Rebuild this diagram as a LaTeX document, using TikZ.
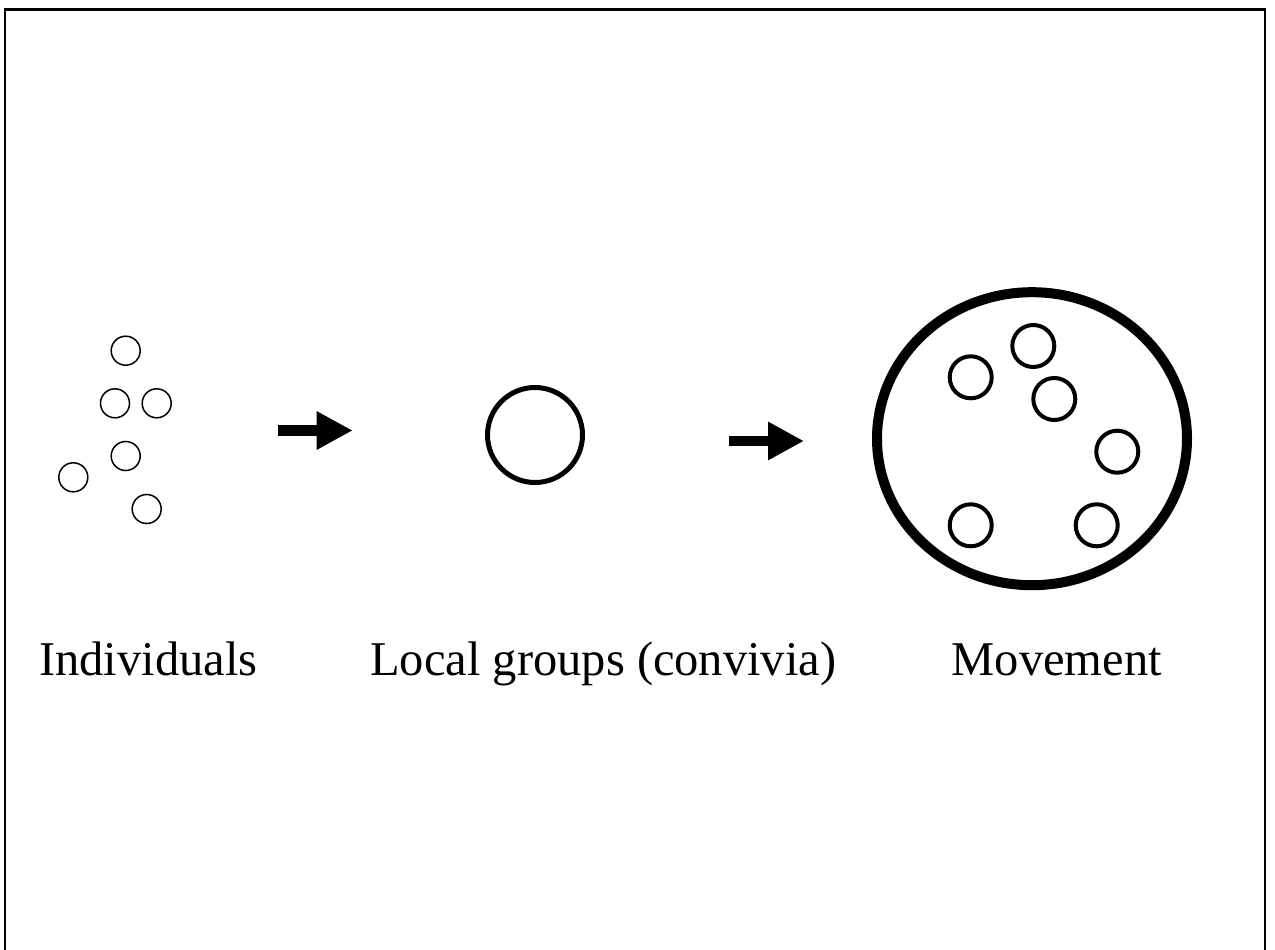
\documentclass[tikz,border=0pt]{standalone}
\usepackage{fontspec}
\setmainfont{Liberation Serif}
\usetikzlibrary{arrows.meta,shapes.geometric}
\begin{document}
\begin{tikzpicture}[x=1pt,y=-1pt,
  indiv/.style={circle,draw,line width=1.5pt,minimum size=29pt,inner sep=0pt},
  grp/.style={circle,draw,line width=5pt,minimum size=95pt,inner sep=0pt},
  member/.style={circle,draw,line width=4pt,minimum size=42pt,inner sep=0pt},
  mov/.style={ellipse,draw,line width=10pt,minimum width=310pt,minimum height=293pt,inner sep=0pt},
  lbl/.style={anchor=base,font=\fontsize{48.5}{58}\selectfont,inner sep=0pt},
  bigarrow/.style={line width=10.7pt,-{Triangle[length=36pt,width=36pt]}}]
\useasboundingbox (0,0) rectangle (1275,950);
% frame (bottom edge runs past the page)
\draw[line width=2.5pt] (5,965) -- (5,9.3) -- (1265,9.3) -- (1265,965);
% individuals
\node[indiv] (i1) at (125.7,350.7) {};
\node[indiv] (i2) at (115,403.3) {};
\node[indiv] (i3) at (156.7,403.3) {};
\node[indiv] (i4) at (125.7,456) {};
\node[indiv] (i5) at (73.3,477.3) {};
\node[indiv] (i6) at (146.7,509) {};
% local group
\node[grp] (g) at (535,435) {};
% movement
\node[mov] (m) at (1032,438.7) {};
\node[member] (m1) at (1033.3,346) {};
\node[member] (m2) at (970.7,377.3) {};
\node[member] (m3) at (1054.3,399) {};
\node[member] (m4) at (1117.3,451.7) {};
\node[member] (m5) at (970.7,525.3) {};
\node[member] (m6) at (1096.7,525.3) {};
% arrows
\coordinate (a1s) at (278.3,430.5);
\coordinate (a1e) at (352.7,430.5);
\coordinate (a2s) at (729,441);
\coordinate (a2e) at (804,441);
\draw[bigarrow] (a1s) -- (a1e);
\draw[bigarrow] (a2s) -- (a2e);
% labels
\node[lbl] (l1) at (148.3,675) {Individuals};
\node[lbl] (l2) at (603.3,675) {Local groups (convivia)};
\node[lbl] (l3) at (1056.7,675) {Movement};
\end{tikzpicture}
\end{document}
